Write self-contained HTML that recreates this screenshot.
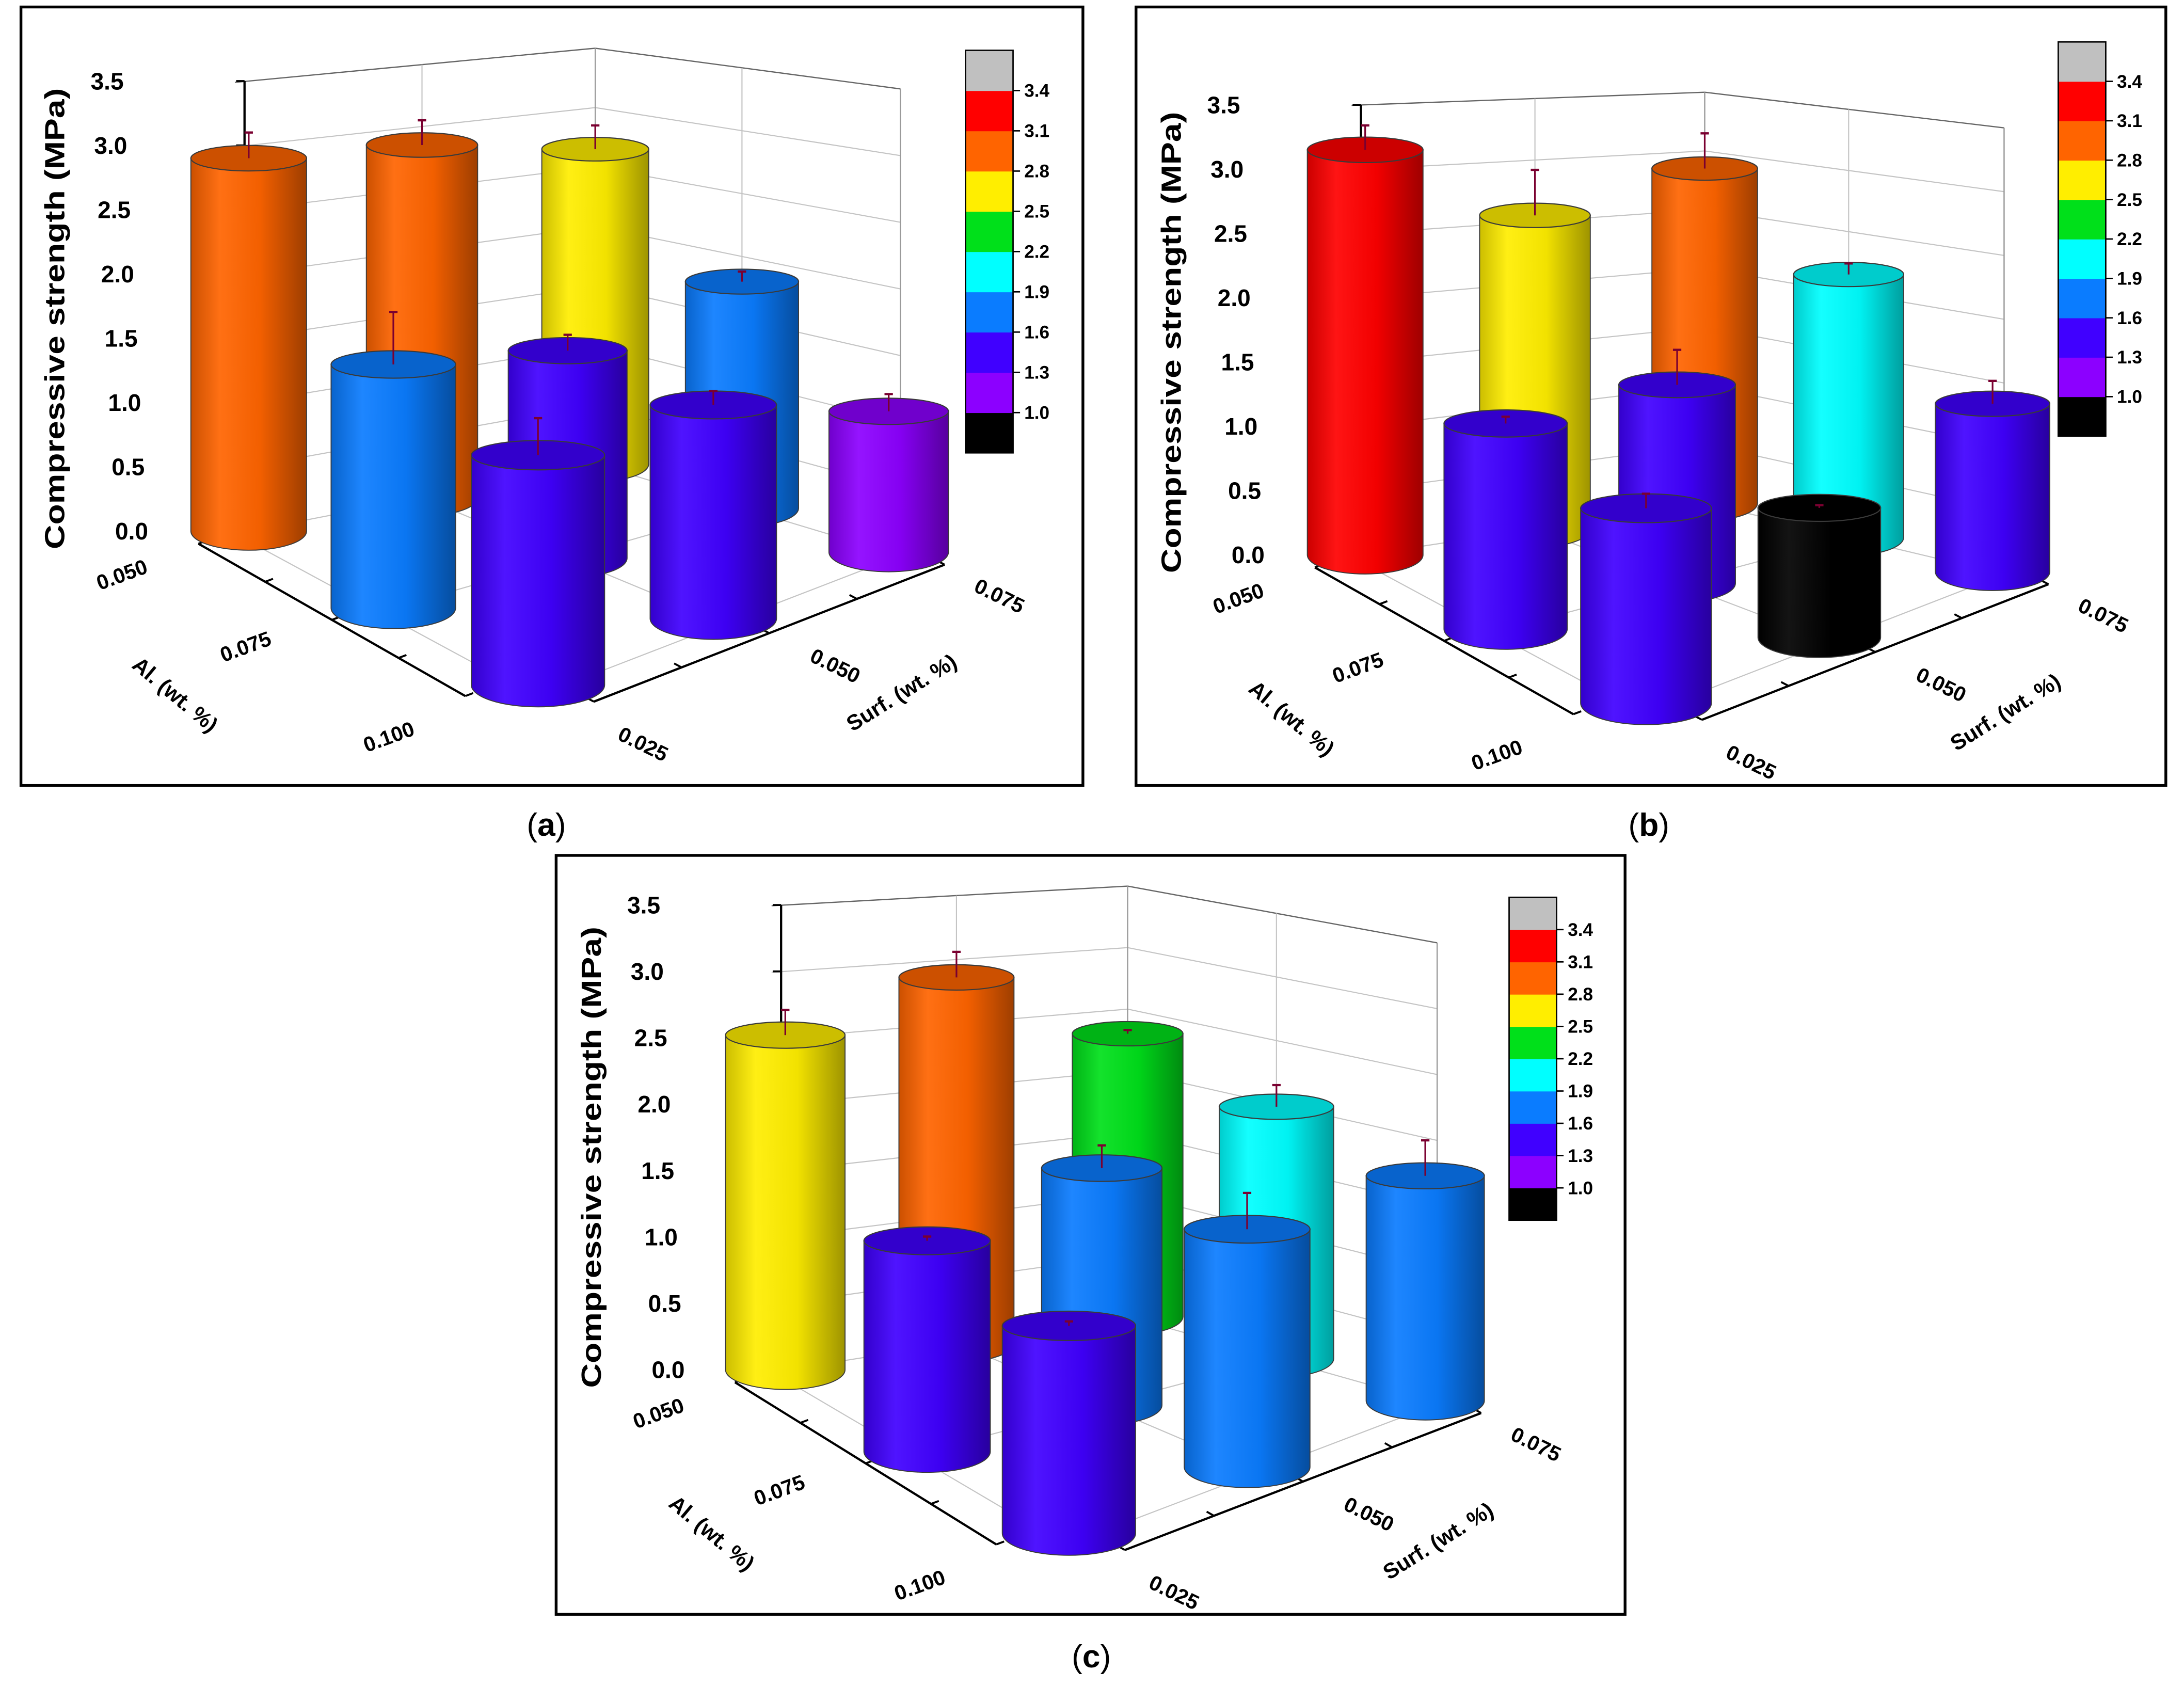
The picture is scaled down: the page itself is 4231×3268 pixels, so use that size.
<!DOCTYPE html>
<html><head><meta charset="utf-8"><style>
html,body{margin:0;padding:0;background:#fff;}
svg{display:block;}
text{font-family:"Liberation Sans",Arial,sans-serif;}
</style></head><body>
<svg id="fig" xmlns="http://www.w3.org/2000/svg" width="4231" height="3268" viewBox="0 0 1563 1207" preserveAspectRatio="none">
<rect x="0" y="0" width="1563" height="1207" fill="#fff"/>
<defs id="defs"></defs>
<text x="391" y="598" font-family="Liberation Serif" font-size="23" text-anchor="middle">(<tspan font-weight="bold">a</tspan>)</text>
<text x="1180" y="598" font-family="Liberation Serif" font-size="23" text-anchor="middle">(<tspan font-weight="bold">b</tspan>)</text>
<text x="781" y="1193" font-family="Liberation Serif" font-size="23" text-anchor="middle">(<tspan font-weight="bold">c</tspan>)</text>
</svg>
<script>
// ---- data ----
const alLabels = ["0.050","0.075","0.100"];
const surfLabels = ["0.025","0.050","0.075"];
const yTicks = [0,0.5,1.0,1.5,2.0,2.5,3.0,3.5];
const cbarTicks = [1.0,1.3,1.6,1.9,2.2,2.5,2.8,3.1,3.4];
// values[i Al][j Surf]
const valuesA = [[2.90,2.85,2.65],[1.76,1.57,1.80],[1.55,1.52,1.06]];
const errA    = [[0.20,0.20,0.20],[0.38,0.12,0.08],[0.25,0.10,0.13]];
const valuesB = [[3.15,2.55,2.85],[1.50,1.53,2.15],[1.34,0.95,1.32]];
const errB    = [[0.19,0.37,0.30],[0.05,0.27,0.09],[0.10,0.02,0.18]];
const valuesC = [[2.52,2.86,2.30],[1.50,1.77,1.98],[1.40,1.70,1.71]];
const errC    = [[0.19,0.20,0.03],[0.03,0.17,0.17],[0.03,0.26,0.27]];
const binColors = ["#000000","#8c00ff","#4000ff","#0a7cff","#00ffff","#00e01a","#ffee00","#ff6400","#ff0000","#c0c0c0"];

// ---- geometry (layout only) ----
const panels = [
 {id:"a",vals:valuesA,errs:errA,box:[15,5,760,557],
  L:[178,380],F:[385,490],R:[636,395],B:[426,332],s:[92,106,95,85],cb:[691,36,34,288]},
 {id:"b",vals:valuesB,errs:errB,box:[813,5,737,557],
  L:[977,397],F:[1178,503],R:[1426,409],B:[1220,360],s:[92,104,91,84],cb:[1473,30,34,282]},
 {id:"c",vals:valuesC,errs:errC,box:[398,612,765,543],
  L:[562,980],F:[765,1097],R:[1020,1002],B:[807,942],s:[95,106,94,88],cb:[1080,642,34,231]}
];
const NS="http://www.w3.org/2000/svg";
const svg=document.getElementById('fig');
const defs=document.getElementById('defs');
function mk(tag,attrs,parent){const e=document.createElementNS(NS,tag);for(const k in attrs)e.setAttribute(k,attrs[k]);(parent||svg).appendChild(e);return e;}
function hex2rgb(h){return [parseInt(h.substr(1,2),16),parseInt(h.substr(3,2),16),parseInt(h.substr(5,2),16)];}
function shade(h,f){const c=hex2rgb(h).map(v=>Math.max(0,Math.min(255,Math.round(f>1?v+(255-v)*(f-1):v*f))));return "rgb("+c.join(",")+")";}
binColors.forEach((c,k)=>{
  const g=mk('linearGradient',{id:'grad'+k,x1:'0',y1:'0',x2:'1',y2:'0'},defs);
  [[0,0.8],[0.25,1.08],[0.6,0.95],[1,0.62]].forEach(s=>mk('stop',{offset:s[0],'stop-color':shade(c,s[1])},g));
});
function colorIndex(v){let k=0;for(const t of cbarTicks){if(v>=t)k++;}return k;}

function base(g,a,b){
  const w=[(1-a)*(1-b),a*(1-b),a*b,(1-a)*b];
  const pts=[g.L,g.F,g.R,g.B];
  let x=0,y=0,s=0;for(let k=0;k<4;k++){x+=w[k]*pts[k][0];y+=w[k]*pts[k][1];s+=w[k]*g.s[k];}
  return [x,y,s];
}
function pt(g,a,b,z){const q=base(g,a,b);return [q[0],q[1]-z*q[2]];}
function line(p,q,attrs,parent){return mk('line',Object.assign({x1:p[0],y1:p[1],x2:q[0],y2:q[1]},attrs),parent);}

panels.forEach(g=>{
  const grp=mk('g',{});
  
  
  const bx=mk('rect',{x:g.box[0],y:g.box[1],width:g.box[2],height:g.box[3],fill:'#fff',stroke:'#000','stroke-width':2},grp);
  
  
  const e=0.04, zmax=3.5;
  const wall=mk('g',{},grp);
  
  
  const gl={stroke:'#c4c4c4','stroke-width':0.8};
  yTicks.forEach(z=>{
    line(pt(g,0,-e,z),pt(g,0,1,z),z===zmax?{stroke:'#666','stroke-width':0.9}:gl,wall);
    line(pt(g,0,1,z),pt(g,1+e,1,z),z===zmax?{stroke:'#666','stroke-width':0.9}:gl,wall);
  });
  line(pt(g,0,0.5,0),pt(g,0,0.5,zmax),gl,wall);
  line(pt(g,0.5,1,0),pt(g,0.5,1,zmax),gl,wall);
  line(pt(g,0,1,0),pt(g,0,1,zmax),{stroke:'#999','stroke-width':0.9},wall);
  line(pt(g,1+e,1,0),pt(g,1+e,1,zmax),{stroke:'#999','stroke-width':0.9},wall);
  line(pt(g,0.5,-e,0),pt(g,0.5,1,0),gl,wall);
  line(pt(g,1+e,-e,0),pt(g,1+e,1,0),gl,wall);
  line(pt(g,0,0.5,0),pt(g,1+e,0.5,0),gl,wall);
  line(pt(g,0,-e,0),pt(g,1+e,-e,0),gl,wall);
  const za=mk('g',{},grp);
  
  
  const zl0=pt(g,0,0,0), zl1=pt(g,0,0,zmax);
  line([zl0[0]-3,zl0[1]],[zl1[0]-3,zl1[1]],{stroke:'#000','stroke-width':1.6},za);
  yTicks.forEach(z=>{const p=pt(g,0,0,z);line([p[0]-3,p[1]],[p[0]-9,p[1]],{stroke:'#000','stroke-width':1.4},za);});
  yTicks.forEach(z=>{
    const p=pt(g,0,0,z);
    const t=mk('text',{x:g.L[0]-72-z*5,y:p[1]+6,'font-size':17,'font-weight':'bold','text-anchor':'end'},grp);
    t.textContent=z.toFixed(1);
    
    
  });
  const yt=mk('text',{x:0,y:0,'font-size':20,'font-weight':'bold','text-anchor':'middle',textLength:330,lengthAdjust:'spacingAndGlyphs',transform:`translate(${g.L[0]-132},${g.L[1]-152}) rotate(-90)`},grp);
  yt.textContent='Compressive strength (MPa)';
  
  
  const a0=[g.L[0]-36,g.L[1]+9], a1=[g.F[0]-52,g.F[1]+8];
  const s0=[g.F[0]+40,g.F[1]+12], s1=[g.R[0]+40,g.R[1]+9];
  const ax=mk('g',{},grp);
  
  
  line(a0,a1,{stroke:'#000','stroke-width':1.6},ax);
  const sx=mk('g',{},grp);
  
  
  line(s0,s1,{stroke:'#000','stroke-width':1.6},sx);
  function unit(v){const l=Math.hypot(v[0],v[1]);return [v[0]/l,v[1]/l];}
  const uS=unit([g.R[0]-g.F[0],g.R[1]-g.F[1]]), uA=unit([g.L[0]-g.F[0],g.L[1]-g.F[1]]);
  [0,0.25,0.5,0.75,1].forEach(t=>{
    const p=[a0[0]+(a1[0]-a0[0])*t,a0[1]+(a1[1]-a0[1])*t];
    line(p,[p[0]+uS[0]*6,p[1]+uS[1]*6],{stroke:'#000','stroke-width':1.4},ax);
    const q=[s0[0]+(s1[0]-s0[0])*t,s0[1]+(s1[1]-s0[1])*t];
    line(q,[q[0]+uA[0]*6,q[1]+uA[1]*6],{stroke:'#000','stroke-width':1.4},sx);
  });
  const alOff=[[-53,27],[-60,24],[-53,34]];
  alLabels.forEach((lab,k)=>{
    const t=k/2;const p=[a0[0]+(a1[0]-a0[0])*t+alOff[k][0],a0[1]+(a1[1]-a0[1])*t+alOff[k][1]];
    const tx=mk('text',{x:0,y:0,'font-size':15,'font-weight':'bold','text-anchor':'middle',transform:`translate(${p[0]},${p[1]}) rotate(-20)`},ax);
    tx.textContent=lab;
    
    
  });
  const surfOff=[[33,35],[45,28],[37,27]];
  surfLabels.forEach((lab,k)=>{
    const t=k/2;const p=[s0[0]+(s1[0]-s0[0])*t+surfOff[k][0],s0[1]+(s1[1]-s0[1])*t+surfOff[k][1]];
    const tx=mk('text',{x:0,y:0,'font-size':15,'font-weight':'bold','text-anchor':'middle',transform:`translate(${p[0]},${p[1]}) rotate(26)`},sx);
    tx.textContent=lab;
    
    
  });
  const at=mk('text',{x:0,y:0,'font-size':15.5,'font-weight':'bold','text-anchor':'middle',transform:`translate(${g.L[0]-56},${g.L[1]+121}) rotate(40)`},ax);
  at.textContent='Al. (wt. %)';
  
  
  const st=mk('text',{x:0,y:0,'font-size':15.5,'font-weight':'bold','text-anchor':'middle',transform:`translate(${g.R[0]+12},${g.R[1]+105}) rotate(-32)`},sx);
  st.textContent='Surf. (wt. %)';
  
  
  const order=[];
  for(let i=0;i<3;i++)for(let j=0;j<3;j++)order.push([i,j]);
  order.sort((p,q)=>(p[0]-p[1])-(q[0]-q[1]) || p[0]-q[0]);
  order.forEach(([i,j])=>{
    const v=g.vals[i][j], er=g.errs[i][j];
    const b=base(g,i/2,j/2);
    const cx=b[0], by=b[1], s=b[2];
    const ty=by-v*s, r=0.45*s, ryT=r*0.22, ryB=r*0.33;
    const k=colorIndex(v), col=binColors[k];
    const bar=mk('g',{},grp);
    
    
    mk('path',{d:`M${cx-r},${ty} L${cx-r},${by} A${r},${ryB} 0 0 0 ${cx+r},${by} L${cx+r},${ty} Z`,fill:`url(#grad${k})`,stroke:'#3a3a3a','stroke-width':0.7},bar);
    mk('ellipse',{cx:cx,cy:ty,rx:r,ry:ryT,fill:shade(col,0.8),stroke:'#3a3a3a','stroke-width':0.8},bar);
    const ey=ty-er*s;
    line([cx,ty],[cx,ey],{stroke:'#7a0030','stroke-width':1.2},bar);
    line([cx-3,ey],[cx+3,ey],{stroke:'#7a0030','stroke-width':1.6},bar);
  });
  const cb=mk('g',{},grp);
  
  
  const [cx0,cy0,cw,ch]=g.cb, n=binColors.length, bh=ch/n;
  for(let k=0;k<n;k++){
    const rc=mk('rect',{x:cx0,y:cy0+(n-1-k)*bh,width:cw,height:bh+0.3,fill:binColors[k]},cb);
    
    
  }
  mk('rect',{x:cx0,y:cy0,width:cw,height:ch,fill:'none',stroke:'#000','stroke-width':1},cb);
  cbarTicks.forEach((t,k)=>{
    const y=cy0+(n-1-k)*bh;
    line([cx0+cw,y],[cx0+cw+5,y],{stroke:'#000','stroke-width':1},cb);
    const tx=mk('text',{x:cx0+cw+8,y:y+4.5,'font-size':13,'font-weight':'bold'},cb);
    tx.textContent=t.toFixed(1);
    
    
  });
});
</script>
</body></html>
